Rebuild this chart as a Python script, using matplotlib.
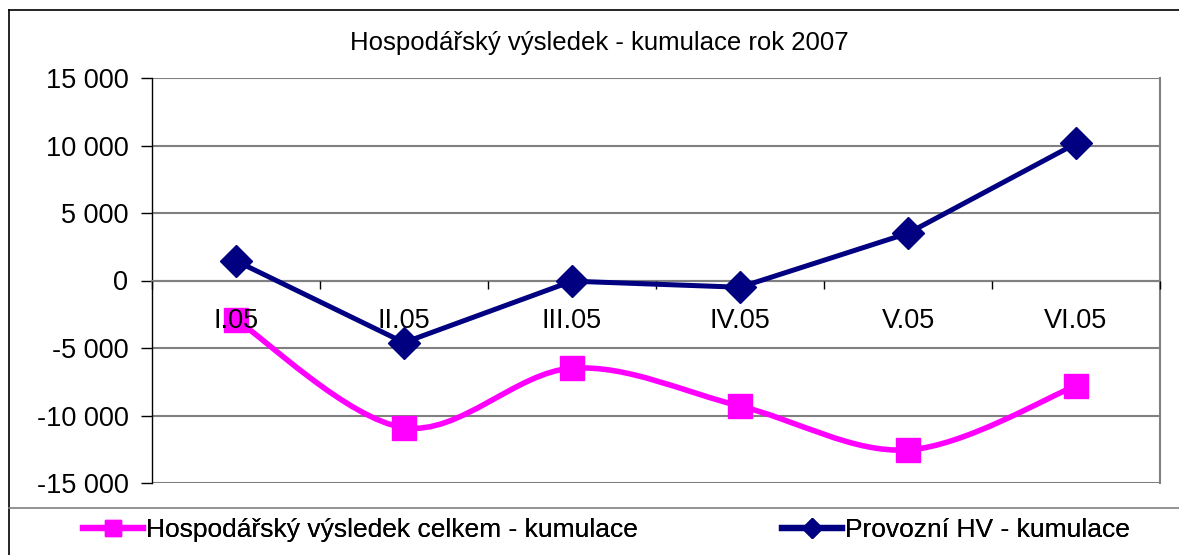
import numpy as np
import matplotlib.pyplot as plt
from matplotlib.path import Path
from matplotlib.patches import PathPatch
from matplotlib.lines import Line2D

plt.rcParams['font.family'] = ['Liberation Sans', 'DejaVu Sans']

months = ['I.05', 'II.05', 'III.05', 'IV.05', 'V.05', 'VI.05']
hv_celkem = [-2900, -10900, -6500, -9300, -12550, -7800]
provozni_hv = [1450, -4600, -50, -500, 3500, 10150]
y_ticks = [-15000, -10000, -5000, 0, 5000, 10000, 15000]
series_names = ['Hospodářský výsledek celkem - kumulace', 'Provozní HV - kumulace']

pink = '#FF00FF'
navy = '#000080'
grid_col = '#808080'

fig = plt.figure(figsize=(11.79, 5.55), dpi=100)
ax = fig.add_axes([152 / 1179, 72 / 555, 1008 / 1179, 405 / 555])

x = np.arange(len(months)) + 0.5

# Excel-like smoothed line: cubic bezier through points (Catmull-Rom tangents)
pts = np.column_stack([x, hv_celkem]).astype(float)
verts = [pts[0]]
codes = [Path.MOVETO]
for i in range(len(pts) - 1):
    p0 = pts[i - 1] if i > 0 else pts[i]
    p1, p2 = pts[i], pts[i + 1]
    p3 = pts[i + 2] if i + 2 < len(pts) else pts[i + 1]
    c1 = p1 + (p2 - p0) / 6
    c2 = p2 - (p3 - p1) / 6
    verts += [c1, c2, p2]
    codes += [Path.CURVE4] * 3
ax.add_patch(PathPatch(Path(verts, codes), fill=False, edgecolor=pink,
                       lw=4, zorder=3, capstyle='round', joinstyle='round'))
ax.plot(x, hv_celkem, ls='none', marker='s', ms=17, color=pink, zorder=4)

ax.plot(x, provozni_hv, color=navy, lw=3.6, marker='D', ms=16, zorder=5,
        solid_joinstyle='miter')

ax.set_xlim(0, 6)
ax.set_ylim(-15000, 15000)
ax.set_yticks(y_ticks)
ax.set_yticklabels([f'{v:,}'.replace(',', ' ') for v in y_ticks])
ax.yaxis.grid(True, color=grid_col, lw=1.5)
ax.set_axisbelow(True)

ax.set_xticks(np.arange(0, 7))
ax.set_xticklabels([])
ax.set_xticks(x, minor=True)
ax.set_xticklabels(months, minor=True)
ax.tick_params(axis='x', which='major', direction='out', length=6, color='black', width=1)
ax.tick_params(axis='x', which='minor', length=0, labelsize=19.5, pad=20)
ax.tick_params(axis='y', direction='out', length=8, width=1, labelsize=19.5, pad=9)
# category labels sit above the pink series but under the navy one
ax.xaxis.set_zorder(4.5)

ax.spines['bottom'].set_position(('data', 0))
ax.spines['bottom'].set_color(grid_col)
ax.spines['bottom'].set_linewidth(1.5)
ax.spines['top'].set_visible(False)
ax.spines['right'].set_color(grid_col)
ax.spines['right'].set_linewidth(1.5)
ax.spines['left'].set_color('black')
ax.spines['left'].set_linewidth(1)

fig.text(0.508, 0.922, 'Hospodářský výsledek - kumulace rok 2007',
         ha='center', va='center', fontsize=18.5)

# outer chart frame and legend separator
fig.add_artist(Line2D([9 / 1179, 9 / 1179], [0, 545 / 555], color='black', lw=1.2))
fig.add_artist(Line2D([9 / 1179, 1], [545 / 555, 545 / 555], color='black', lw=1.2))
fig.add_artist(Line2D([9 / 1179, 1], [47 / 555, 47 / 555], color=grid_col, lw=1.2))

handles = [Line2D([], [], color=pink, lw=4.5, marker='s', ms=12),
           Line2D([], [], color=navy, lw=4.5, marker='D', ms=10)]
for h, name, x0 in zip(handles, series_names, [83, 782]):
    leg = fig.legend([h], [name], loc='center left',
                     bbox_to_anchor=(x0 / 1179, 25 / 555), frameon=False,
                     fontsize=19, handlelength=2.27, handletextpad=0.12,
                     borderaxespad=0, borderpad=0)
    fig.add_artist(leg)

fig.savefig('out.png', dpi=100)
